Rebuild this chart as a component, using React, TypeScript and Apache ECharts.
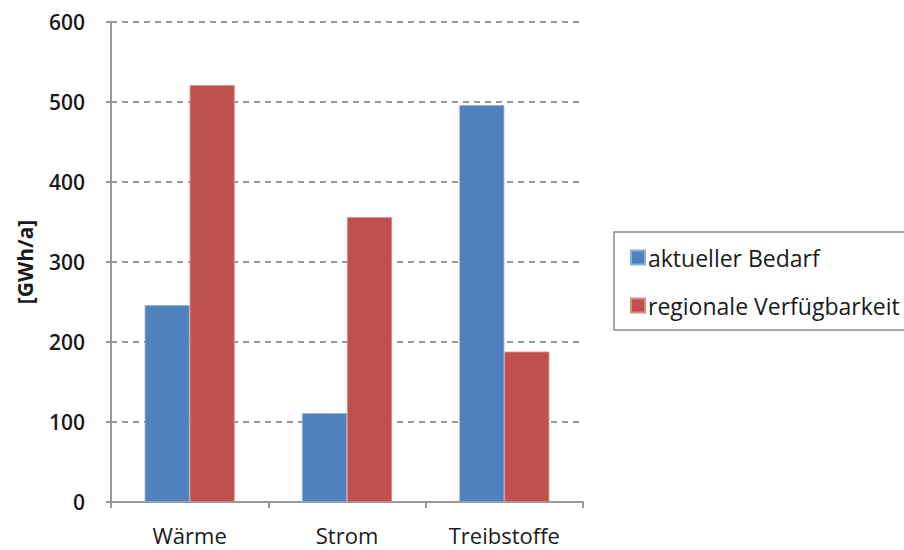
import React, { useEffect, useRef } from "react";
import * as echarts from "echarts";

const categories = ["Wärme", "Strom", "Treibstoffe"];
const bedarf = [246, 111, 496];
const verfuegbarkeit = [521, 356, 188];
const seriesNames = ["aktueller Bedarf", "regionale Verfügbarkeit"];
const yTicks = [0, 100, 200, 300, 400, 500, 600];

export default function App() {
  const ref = useRef<HTMLDivElement>(null);
  useEffect(() => {
    if (!ref.current) return;
    const chart = echarts.init(ref.current, null, { renderer: "svg" });
    const font = "'Open Sans', 'DejaVu Sans', sans-serif";
    chart.setOption({
      animation: false,
      backgroundColor: "#ffffff",
      textStyle: { fontFamily: font },
      grid: { left: 111, top: 22, right: 321, bottom: 48 },
      legend: {
        orient: "vertical",
        left: 614,
        top: 232,
        padding: [14, 40, 13, 16],
        itemGap: 25,
        itemWidth: 14,
        itemHeight: 14,
        icon: "rect",
        borderColor: "#8c8c8c",
        borderWidth: 1.5,
        textStyle: { fontFamily: font, fontSize: 23, color: "#1a1a1a", padding: [0, 0, 0, -2] },
        data: seriesNames,
      },
      xAxis: {
        type: "category",
        data: categories,
        axisLine: { lineStyle: { color: "#999", width: 2 } },
        axisTick: { show: true, length: 6, lineStyle: { color: "#999", width: 2 } },
        axisLabel: { margin: 22, fontSize: 22, lineHeight: 22, color: "#1a1a1a", fontFamily: font },
      },
      yAxis: {
        type: "value",
        min: 0,
        max: 600,
        interval: 100,
        name: "[GWh/a]",
        nameLocation: "middle",
        nameGap: 76,
        nameTextStyle: { fontSize: 21, fontWeight: "bold", color: "#1a1a1a", fontFamily: font },
        axisLine: { show: true, lineStyle: { color: "#999", width: 2 } },
        axisTick: { show: true, length: 5, lineStyle: { color: "#999", width: 2 } },
        axisLabel: {
          margin: 26,
          fontSize: 21,
          fontWeight: 600,
          color: "#1a1a1a",
          fontFamily: font,
          formatter: (v: number) => (yTicks.includes(v) ? String(v) : ""),
        },
        splitLine: { show: true, lineStyle: { color: "#999", width: 2, type: [6, 5] } },
      },
      series: [
        {
          name: seriesNames[0],
          type: "bar",
          data: bedarf,
          barWidth: 45,
          barGap: "0%",
          itemStyle: { color: "#4F81BD", borderColor: "#8eacd4", borderWidth: 0.8 },
        },
        {
          name: seriesNames[1],
          type: "bar",
          data: verfuegbarkeit,
          barWidth: 45,
          itemStyle: { color: "#C0504D", borderColor: "#d68b89", borderWidth: 0.8 },
        },
      ],
    });
    return () => chart.dispose();
  }, []);
  return <div ref={ref} style={{ width: 904, height: 550, position: "absolute", left: 0, top: 0 }} />;
}
